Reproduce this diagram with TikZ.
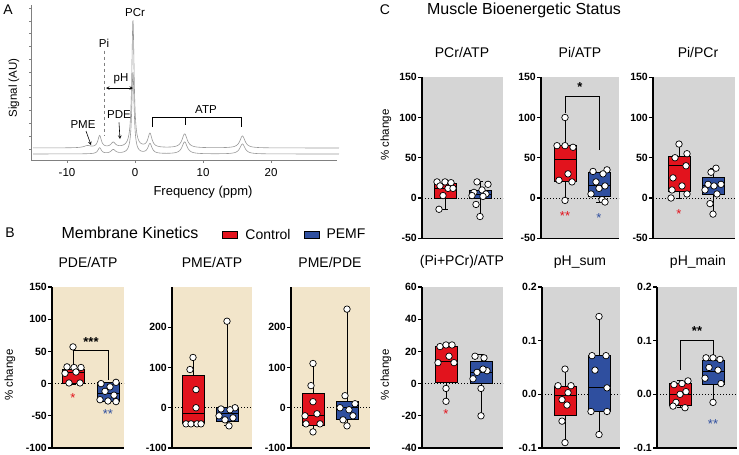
\documentclass[tikz,border=0pt]{standalone}
\usepackage{fontspec}
\setmainfont{Liberation Sans}
\begin{document}
\definecolor{cr}{HTML}{E2131D}
\definecolor{cb}{HTML}{2F4F9F}
\definecolor{beige}{HTML}{F2E5CA}
\definecolor{gbg}{HTML}{D5D5D5}
\begin{tikzpicture}[x=1pt,y=-1pt,
 pt/.style={circle,draw=black,fill=white,line width=0.7pt,inner sep=0pt,minimum size=6.5pt},
 ttl/.style={font=\fontsize{14}{14}\selectfont},
 tk/.style={font=\bfseries\fontsize{10.5}{10.5}\selectfont,anchor=east,inner sep=1pt},
 lab/.style={font=\fontsize{11.5}{11.5}\selectfont},
 ax/.style={line width=1.1pt},
 declare function={lor(\x,\a,\h,\w)=\h*\w*\w/(\w*\w+(\x-\a)*(\x-\a));}]
\useasboundingbox (0,0) rectangle (739,455);
\newcommand\bxp[8]{% xc,min,q1,med,q3,max,color,points
 \draw[line width=0.9pt] (#1,#2)--(#1,#6) (#1-3,#2)--(#1+3,#2) (#1-3,#6)--(#1+3,#6);
 \draw[line width=0.9pt,fill=#7] (#1-11,#3) rectangle (#1+11,#5);
 \draw[line width=0.9pt] (#1-11,#4)--(#1+11,#4);
 \foreach \dx/\v in {#8}{\node[pt] at (#1+\dx,\v){};}}
\newcommand\pnl[6]{% xl,xr,vmin,vmax,bg,ticks
 \fill[#5] (#1,#3) rectangle (#2,#4);
 \draw[dotted,line width=1pt] (#1,0)--(#2,0);
 \draw[ax] (#1,#4)--(#1,#3)--(#2,#3);
 \foreach \t/\l in {#6}{\draw[ax] (#1-4,\t)--(#1,\t); \node[tk] at (#1-4,\t){\l};}}
% ---------- A ----------
\node[font=\fontsize{14}{14}\selectfont] (lA) at (8,10) {A};
\draw[line width=0.6pt,gray] (31,5)--(31,160)--(337,160);
\foreach \i in {0,...,11}{\draw[gray,line width=0.5pt] (29,{8+\i*12.8})--(31,{8+\i*12.8});}
\foreach \p/\l in {-10/-10,0/0,10/10,20/20}{\draw[gray] ({135+6.8*\p},160)--({135+6.8*\p},163); \node[lab] at ({135+6.8*\p},173){\l};}
\draw[gray!80,line width=0.6pt] plot[domain=-15:30,samples=700,smooth] ({135+6.8*\x},{148-lor(\x,-0.3,128,0.2)-lor(\x,-5.2,12,0.3)-lor(\x,-3.2,5,0.4)-lor(\x,-7,2,0.6)-lor(\x,2.2,14,0.35)-lor(\x,7.3,14,0.45)-lor(\x,15.8,12,0.45)});
\draw[gray!80,line width=0.6pt] plot[domain=-15:30,samples=700,smooth] ({135+6.8*\x},{154-lor(\x,-0.3,82,0.2)-lor(\x,-5.2,6,0.3)-lor(\x,-3.2,4,0.4)-lor(\x,2.2,10,0.35)-lor(\x,7.3,12,0.45)-lor(\x,15.8,10,0.45)});
\node[lab,rotate=90] (sig) at (14,88) {Signal (AU)};
\node[font=\fontsize{13}{13}\selectfont] (fq) at (203,192) {Frequency (ppm)};
\node[lab] (pcr) at (135,13) {PCr};
\node[lab] (pi) at (104,43) {Pi};
\draw[dashed,gray] (pi.south)--(104,136);
\node[lab] (ph) at (121,79) {pH};
\draw[<->,>=stealth,line width=0.6pt] (106,88)--(133,88);
\node[lab] (pme) at (83,125) {PME};
\coordinate (pmeE) at (91,145);
\draw[->,>=stealth,line width=0.6pt] (86,131)--(pmeE);
\node[lab] (pde) at (119,115) {PDE};
\coordinate (pdeE) at (120,139);
\draw[->,>=stealth,line width=0.6pt] (pde.south)--(pdeE);
\node[lab] (atp) at (206,110) {ATP};
\draw[line width=0.6pt] (152,127)--(152,117)--(241,117)--(241,127) (185,117)--(185,125);
% ---------- B ----------
\node[font=\fontsize{14}{14}\selectfont] (lB) at (10,233) {B};
\node[font=\fontsize{16}{16}\selectfont] (mk) at (130,233) {Membrane Kinetics};
\draw[line width=0.9pt,fill=cr] (222,231) rectangle (237,238);
\node[ttl] (lc) at (268,234) {Control};
\draw[line width=0.9pt,fill=cb] (304,231) rectangle (319,238);
\node[ttl] (lp) at (346,234) {PEMF};
\node[ttl] at (88,262) {PDE/ATP};
\node[ttl] at (212,262) {PME/ATP};
\node[ttl] at (330,262) {PME/PDE};
\node[lab,rotate=90] at (10,375) {\% change};
\begin{scope}[shift={(0,383.6)},yscale=-0.644]
\pnl{52}{124}{-100}{150}{beige}{-100/-100,-50/-50,0/0,50/50,100/100,150/150}
\bxp{73}{-2}{0}{17}{22}{57}{cr}{0/57,-6/26,1/25,8/25,-8/16,3/18,-4/1,7/1}
\bxp{108}{-28}{-28}{-15}{2}{2}{cb}{-7/0,8/2,2/-5,-3/-12,6/-18,-8/-25,0/-27,8/-28}
\draw[line width=1pt] (73,37)--(73,52)--(108,52)--(108,5);
\node[font=\bfseries\fontsize{13}{13}\selectfont] at (91,65) {***};
\node[text=cr,font=\fontsize{13}{13}\selectfont] at (73,-22) {*};
\node[text=cb,font=\fontsize{13}{13}\selectfont] at (108,-48) {**};
\end{scope}
\begin{scope}[shift={(0,407.75)},yscale=-0.4025]
\pnl{172}{252}{-100}{300}{beige}{-100/-100,0/0,100/100,200/200}
\bxp{193}{-40}{-40}{-15}{80}{125}{cr}{0/125,-3/95,3/45,3/0,-7/-40,-2/-40,4/-40,8/-40}
\bxp{227}{-45}{-35}{-15}{0}{215}{cb}{0/215,8/0,-6/-3,3/-5,-8/-20,6/-25,-2/-30,2/-45}
\pnl{291}{370}{-100}{300}{beige}{-100/-100,0/0,100/100,200/200}
\bxp{313}{-60}{-45}{-20}{35}{110}{cr}{0/110,-2/55,0/15,4/-15,-8/-20,-7/-40,7/-40,0/-60}
\bxp{347}{-45}{-28}{0}{15}{245}{cb}{0/245,-2/30,8/10,-7/0,2/-5,6/-20,-4/-30,0/-45}
\end{scope}
% ---------- C ----------
\node[font=\fontsize{14}{14}\selectfont] (lC) at (385,10) {C};
\node[font=\fontsize{16}{16}\selectfont] (mb) at (524,10) {Muscle Bioenergetic Status};
\node[ttl] at (462,52) {PCr/ATP};
\node[ttl] at (580,52) {Pi/ATP};
\node[ttl] at (698,52) {Pi/PCr};
\node[ttl] at (462,262) {(Pi+PCr)/ATP};
\node[ttl] at (580,262) {pH\_sum};
\node[ttl] at (698,262) {pH\_main};
\node[lab,rotate=90] at (386,135) {\% change};
\node[lab,rotate=90] at (386,375) {\% change};
\begin{scope}[shift={(0,198)},yscale=-0.805]
\pnl{422}{503}{-50}{150}{gbg}{-50/-50,0/0,50/50,100/100,150/150}
\bxp{445}{-14}{0}{12}{18}{20}{cr}{-8/20,0/20,6/19,-5/15,3/12,8/12,-2/3,-6/-14}
\bxp{480}{-23}{0}{5}{10}{20}{cb}{-3/20,8/17,2/10,-6/7,6/5,-8/3,3/2,-4/-8,0/-23}
\pnl{541}{619}{-50}{150}{gbg}{-50/-50,0/0,50/50,100/100,150/150}
\bxp{565}{-3}{20}{48}{65}{100}{cr}{0/100,-8/65,0/65,8/63,3/30,-6/22,7/20,0/-3}
\bxp{599}{-5}{2}{15}{32}{32}{cb}{-6/33,8/35,4/30,-3/20,6/15,0/12,-8/5,3/-2,6/-5}
\draw[line width=1pt] (565,105)--(565,126)--(599,126)--(599,60);
\node[font=\bfseries\fontsize{13}{13}\selectfont] at (580,138) {*};
\node[text=cr,font=\fontsize{13}{13}\selectfont] at (565,-22) {**};
\node[text=cb,font=\fontsize{13}{13}\selectfont] at (599,-25) {*};
\pnl{653}{735}{-50}{150}{gbg}{-50/-50,0/0,50/50,100/100,150/150}
\bxp{679}{0}{8}{40}{52}{67}{cr}{0/67,8/55,-4/50,7/40,-6/25,3/15,-7/10,8/5,-8/0}
\bxp{713}{-20}{4}{15}{25}{37}{cb}{3/37,-2/32,8/17,-5/17,1/15,-8/10,4/5,-3/-7,0/-20}
\node[text=cr,font=\fontsize{13}{13}\selectfont] at (679,-20) {*};
\end{scope}
\begin{scope}[shift={(0,383.6)},yscale=-1.61]
\pnl{422}{503}{-40}{60}{gbg}{-40/-40,-20/-20,0/0,20/20,40/40,60/60}
\bxp{446}{-11}{1}{14}{23}{24}{cr}{-6/23,0/24,6/24,-8/13,3/17,8/13,0/-3,0/-11}
\bxp{481}{-20}{0}{7}{14}{18}{cb}{-6/17,3/16,6/8,-4/7,2/9,-8/3,0/-3,0/-20}
\node[text=cr,font=\fontsize{13}{13}\selectfont] at (446,-19) {*};
\end{scope}
\begin{scope}[shift={(0,394.3)},yscale=-536.7]
\pnl{542}{620}{-0.1}{0.2}{gbg}{-0.1/-0.1,0/0.0,0.1/0.1,0.2/0.2}
\bxp{565}{-0.09}{-0.04}{-0.003}{0.014}{0.047}{cr}{0/0.047,-7/0.016,6/0.016,3/0.003,-3/-0.01,2/-0.02,-3/-0.05,0/-0.09}
\bxp{599}{-0.075}{-0.032}{0.012}{0.072}{0.145}{cb}{0/0.145,-7/0.072,7/0.072,-4/0.045,8/0.012,-8/-0.032,8/-0.032,0/-0.075}
\pnl{657}{737}{-0.1}{0.2}{gbg}{-0.1/-0.1,0/0.0,0.1/0.1,0.2/0.2}
\bxp{680}{-0.025}{-0.02}{0}{0.02}{0.025}{cr}{8/0.025,2/0.02,-6/0.018,6/0.005,0/0,-4/-0.015,-7/-0.022,5/-0.025}
\bxp{713}{-0.015}{0.018}{0.042}{0.063}{0.068}{cb}{-7/0.068,0/0.068,7/0.065,-4/0.05,5/0.045,-8/0.03,8/0.02,0/-0.015}
\draw[line width=1pt] (680,0.045)--(680,0.1)--(713,0.1)--(713,0.074);
\node[font=\bfseries\fontsize{13}{13}\selectfont] at (697,0.118) {**};
\node[text=cb,font=\fontsize{13}{13}\selectfont] at (713,-0.055) {**};
\end{scope}
\end{tikzpicture}
\end{document}
